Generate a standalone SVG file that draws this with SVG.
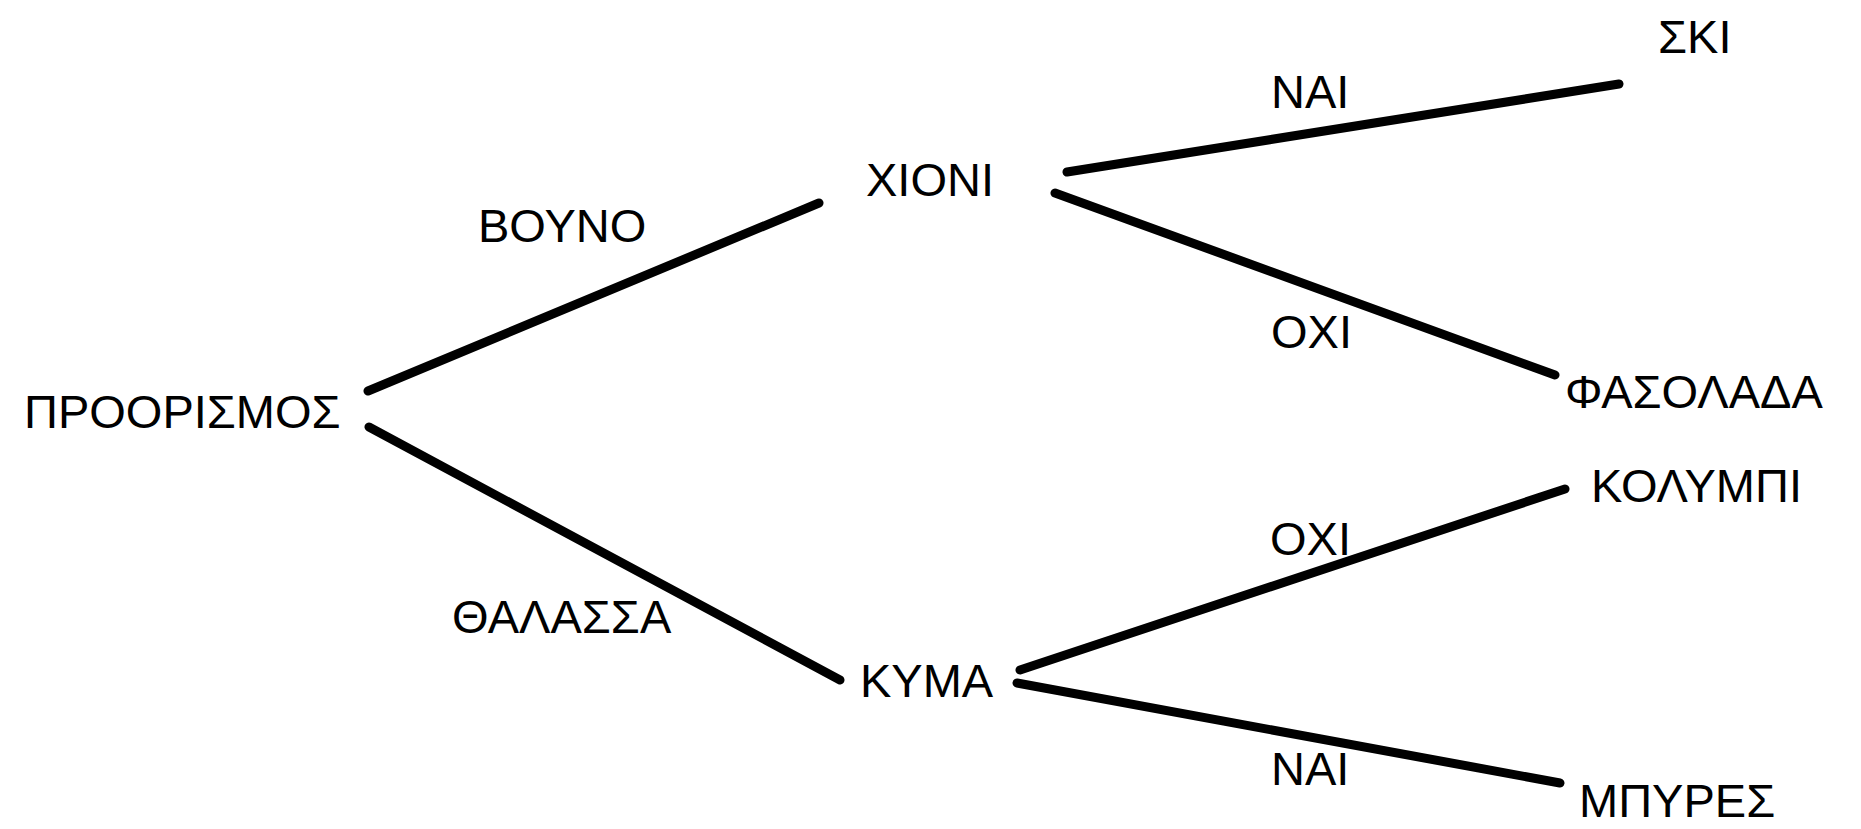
<svg xmlns="http://www.w3.org/2000/svg" width="1861" height="829" viewBox="0 0 1861 829">
<style>
text{font-family:"Liberation Sans",Arial,sans-serif;font-size:47px;fill:#000}
.e{stroke:#000;stroke-width:9;stroke-linecap:round;fill:none}
</style>
<rect width="1861" height="829" fill="#fff"/>
<g id="connectors">
<line class="e" x1="368" y1="391" x2="819" y2="203"/>
<line class="e" x1="369" y1="427" x2="840" y2="680"/>
<line class="e" x1="1067" y1="172" x2="1619" y2="84"/>
<line class="e" x1="1055" y1="193" x2="1555" y2="375"/>
<line class="e" x1="1020" y1="670" x2="1565" y2="489"/>
<line class="e" x1="1017" y1="683" x2="1560" y2="783"/>
</g>
<g id="labels">
<text x="478" y="242">ΒΟΥΝΟ</text>
<text x="452" y="633">ΘΑΛΑΣΣΑ</text>
<text x="1271" y="108">ΝΑΙ</text>
<text x="1271" y="348">ΟΧΙ</text>
<text x="1270" y="555">ΟΧΙ</text>
<text x="1271" y="785">ΝΑΙ</text>
</g>
<g id="n-proorismos"><text x="24" y="428">ΠΡΟΟΡΙΣΜΟΣ</text></g>
<g id="n-xioni"><text x="866" y="196">ΧΙΟΝΙ</text></g>
<g id="n-kyma"><text x="860" y="697">ΚΥΜΑ</text></g>
<g id="n-ski"><text x="1658" y="53">ΣΚΙ</text></g>
<g id="n-fasolada"><text x="1565" y="408">ΦΑΣΟΛΑΔΑ</text></g>
<g id="n-kolympi"><text x="1591" y="502">ΚΟΛΥΜΠΙ</text></g>
<g id="n-mpyres"><text x="1579" y="817">ΜΠΥΡΕΣ</text></g>
</svg>
